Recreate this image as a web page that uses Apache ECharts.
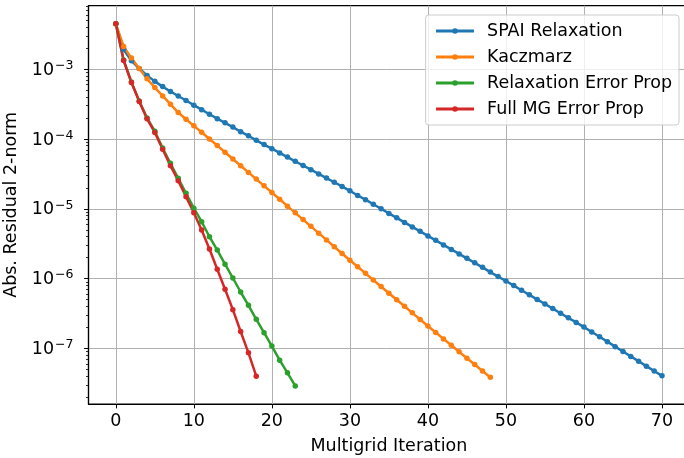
<!DOCTYPE html>
<html>
<head>
<meta charset="utf-8">
<script src="https://cdn.jsdelivr.net/npm/echarts@6/dist/echarts.min.js"></script>
<style>
  html, body { margin: 0; padding: 0; background: #fff; }
  #chart { width: 684px; height: 458px; }
</style>
</head>
<body>
<div id="chart"></div>
<script>
const spai = [
  4.46e-3, 1.91e-3, 1.32e-3, 1.02e-3, 8.13e-4, 6.68e-4, 5.62e-4, 4.79e-4, 4.12e-4, 3.55e-4,
  3.05e-4, 2.63e-4, 2.26e-4, 1.95e-4, 1.70e-4, 1.48e-4, 1.27e-4, 1.11e-4, 9.55e-5, 8.32e-5,
  7.26e-5, 6.31e-5, 5.50e-5, 4.79e-5, 4.17e-5, 3.63e-5, 3.16e-5, 2.75e-5, 2.40e-5, 2.09e-5,
  1.81e-5, 1.55e-5, 1.35e-5, 1.16e-5, 1.00e-5, 8.59e-6, 7.41e-6, 6.38e-6, 5.50e-6, 4.75e-6,
  4.09e-6, 3.53e-6, 3.04e-6, 2.62e-6, 2.26e-6, 1.95e-6, 1.68e-6, 1.45e-6, 1.24e-6, 1.07e-6,
  9.25e-7, 7.94e-7, 6.82e-7, 5.86e-7, 5.04e-7, 4.33e-7, 3.72e-7, 3.19e-7, 2.74e-7, 2.36e-7,
  2.02e-7, 1.72e-7, 1.47e-7, 1.25e-7, 1.06e-7, 9.04e-8, 7.69e-8, 6.55e-8, 5.57e-8, 4.75e-8,
  4.05e-8
];
const kaczmarz = [
  4.46e-3, 2.11e-3, 1.44e-3, 1.02e-3, 7.26e-4, 5.45e-4, 4.14e-4, 3.15e-4, 2.39e-4, 1.92e-4,
  1.54e-4, 1.25e-4, 1.00e-4, 8.04e-5, 6.44e-5, 5.16e-5, 4.14e-5, 3.32e-5, 2.66e-5, 2.13e-5,
  1.71e-5, 1.37e-5, 1.09e-5, 8.75e-6, 7.00e-6, 5.60e-6, 4.48e-6, 3.58e-6, 2.86e-6, 2.29e-6,
  1.83e-6, 1.48e-6, 1.19e-6, 9.55e-7, 7.69e-7, 6.18e-7, 4.98e-7, 4.01e-7, 3.23e-7, 2.59e-7,
  2.09e-7, 1.69e-7, 1.37e-7, 1.11e-7, 8.95e-8, 7.24e-8, 5.87e-8, 4.75e-8, 3.85e-8
];
const relaxErr = [
  4.46e-3, 1.35e-3, 6.53e-4, 3.51e-4, 2.00e-4, 1.29e-4, 7.41e-5, 4.49e-5, 2.74e-5, 1.67e-5,
  1.02e-5, 6.53e-6, 3.98e-6, 2.56e-6, 1.61e-6, 1.02e-6, 6.43e-7, 4.14e-7, 2.61e-7, 1.68e-7,
  1.08e-7, 6.79e-8, 4.47e-8, 2.90e-8
];
const fullMgErr = [
  4.46e-3, 1.33e-3, 6.43e-4, 3.44e-4, 1.94e-4, 1.24e-4, 7.13e-5, 4.15e-5, 2.53e-5, 1.49e-5,
  8.79e-6, 4.97e-6, 2.65e-6, 1.36e-6, 7.03e-7, 3.59e-7, 1.75e-7, 8.65e-8, 4.01e-8
];
const names = ['SPAI Relaxation', 'Kaczmarz', 'Relaxation Error Prop', 'Full MG Error Prop'];
const xTicks = [0, 10, 20, 30, 40, 50, 60, 70];
const yTicks = [1e-7, 1e-6, 1e-5, 1e-4, 1e-3];
const minorMantissa = [2, 3, 4, 5, 6, 7, 8, 9];
const minorDecades = [-8, -7, -6, -5, -4, -3];

const font = 'DejaVu Sans';
const yMin = 1.6e-8;
const yMax = 8.1e-3;
const minorTicks = minorDecades
  .flatMap((d) => minorMantissa.map((m) => m * Math.pow(10, d)))
  .filter((v) => v > yMin && v < yMax);

const color = ['#1f77b4', '#ff7f0e', '#2ca02c', '#d62728'];
const toPairs = (arr) => arr.map((v, i) => [i, v]);

const chart = echarts.init(document.getElementById('chart'));
chart.setOption({
  animation: false,
  color,
  textStyle: { fontFamily: font },
  grid: {
    left: 88.5,
    right: -5.3,
    top: 5.7,
    bottom: 54,
    outerBoundsMode: 'none',
    show: true,
    borderColor: '#000',
    borderWidth: 1.2,
  },
  legend: {
    orient: 'vertical',
    right: 5,
    top: 15,
    padding: [6, 7, 6, 9],
    itemWidth: 38,
    itemHeight: 7,
    itemGap: 6,
    backgroundColor: 'rgba(255,255,255,0.8)',
    borderColor: '#cccccc',
    borderWidth: 1,
    borderRadius: 3,
    lineStyle: { width: 2.8 },
    textStyle: { fontSize: 17.5, lineHeight: 20, fontFamily: font, color: '#000', padding: [0, 0, 0, 8] },
    data: names,
  },
  xAxis: {
    type: 'value',
    min: -3.5,
    max: 73.5,
    name: 'Multigrid Iteration',
    nameLocation: 'middle',
    nameGap: 33,
    nameTextStyle: { fontSize: 17.5, fontFamily: font, color: '#000' },
    axisLine: { onZero: false, lineStyle: { color: '#000', width: 1.2 } },
    axisTick: { show: true, length: 4.4, customValues: xTicks, lineStyle: { color: '#000', width: 1 } },
    axisLabel: { customValues: xTicks, fontSize: 17.5, fontFamily: font, color: '#000', margin: 8 },
    splitLine: { show: true, lineStyle: { color: '#b0b0b0', width: 1 } },
  },
  yAxis: [
    {
      type: 'log',
      min: yMin,
      max: yMax,
      name: 'Abs. Residual 2-norm',
      nameLocation: 'middle',
      nameGap: 63,
      nameTextStyle: { fontSize: 17.5, fontFamily: font, color: '#000' },
      axisLine: { show: true, onZero: false, lineStyle: { color: '#000', width: 1.2 } },
      axisTick: { show: true, length: 4.4, customValues: yTicks, lineStyle: { color: '#000', width: 1 } },
      axisLabel: {
        customValues: yTicks,
        margin: 15,
        formatter: (v) => '{b|10}{s|−' + Math.round(-Math.log10(v)) + '}',
        rich: {
          b: { fontSize: 17.5, fontFamily: font, color: '#000', lineHeight: 20, verticalAlign: 'bottom' },
          s: { fontSize: 12.5, fontFamily: font, color: '#000', lineHeight: 12, verticalAlign: 'top', padding: [0, 0, 0, 1] },
        },
      },
      splitLine: { show: true, lineStyle: { color: '#b0b0b0', width: 1 } },
    },
    {
      type: 'log',
      min: yMin,
      max: yMax,
      position: 'left',
      axisLine: { show: false, onZero: false },
      axisLabel: { show: false },
      splitLine: { show: false },
      axisTick: { show: true, length: 2.5, customValues: minorTicks, lineStyle: { color: '#000', width: 0.8 } },
    },
  ],
  series: [
    { name: names[0], data: toPairs(spai) },
    { name: names[1], data: toPairs(kaczmarz) },
    { name: names[2], data: toPairs(relaxErr) },
    { name: names[3], data: toPairs(fullMgErr) },
  ].map((s) => ({
    ...s,
    type: 'line',
    yAxisIndex: 0,
    symbol: 'circle',
    symbolSize: 5.5,
    showSymbol: true,
    lineStyle: { width: 2.5 },
    emphasis: { disabled: true },
  })),
});
</script>
</body>
</html>
